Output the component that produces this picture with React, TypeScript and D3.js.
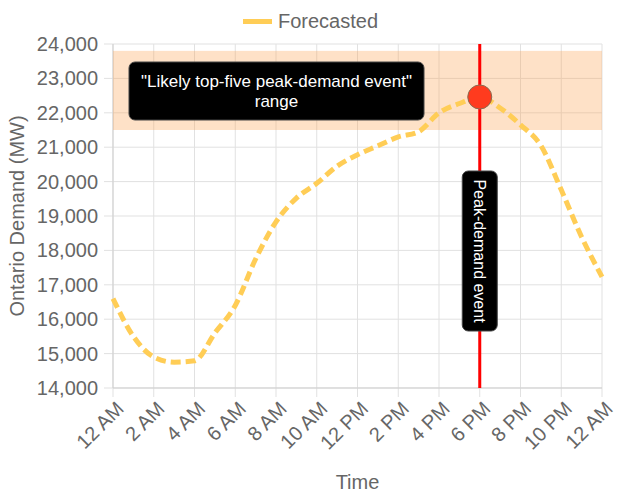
import React from "react";
import * as d3 from "d3";

const hours = d3.range(0, 25);
const forecast = [
  16600, 15500, 14900, 14750, 14790, 15600, 16400, 17750, 18830, 19520,
  19950, 20450, 20780, 21040, 21300, 21450, 22000, 22270, 22460, 22140,
  21650, 21050, 19760, 18390, 17230,
];
const xTickHours = [0, 2, 4, 6, 8, 10, 12, 14, 16, 18, 20, 22, 24];
const xTickLabels = ["12 AM", "2 AM", "4 AM", "6 AM", "8 AM", "10 AM", "12 PM", "2 PM", "4 PM", "6 PM", "8 PM", "10 PM", "12 AM"];
const yTicks = [14000, 15000, 16000, 17000, 18000, 19000, 20000, 21000, 22000, 23000, 24000];
const bandRange = [21500, 23800];
const peakHour = 18;
const peakValue = 22460;
const bandLabel = ['"Likely top-five peak-demand event"', "range"];
const peakLabel = "Peak-demand event";
const seriesName = "Forecasted";

const W = 625, H = 500;
const L = 113, R = 602, T = 44, B = 388;
const FONT = "Arial, 'Liberation Sans', Helvetica, sans-serif";

export default function App() {
  const x = d3.scaleLinear().domain([0, 24]).range([L, R]);
  const y = d3.scaleLinear().domain([14000, 24000]).range([B, T]);
  const line = d3
    .line<number>()
    .x((_, i) => x(hours[i]))
    .y((d) => y(d))
    .curve(d3.curveMonotoneX);
  const fmt = d3.format(",");
  const px = x(peakHour);

  return (
    <div style={{ position: "fixed", left: 0, top: 0 }}>
      <svg width={W} height={H} style={{ display: "block", fontFamily: FONT }}>
        <rect width={W} height={H} fill="#fff" />
        {/* grid */}
        {xTickHours.map((h) => (
          <line key={"gx" + h} x1={x(h)} x2={x(h)} y1={T} y2={B + 9} stroke="#e1e1e1" strokeWidth={1} />
        ))}
        {yTicks.map((v) => (
          <line key={"gy" + v} x1={L - 9} x2={R} y1={y(v)} y2={y(v)} stroke="#e1e1e1" strokeWidth={1} />
        ))}
        <line x1={L} x2={L} y1={T} y2={B} stroke="#cfcfcf" />
        <line x1={L} x2={R} y1={B} y2={B} stroke="#cfcfcf" />
        {/* band */}
        <rect x={L} width={R - L} y={y(bandRange[1])} height={y(bandRange[0]) - y(bandRange[1])} fill="rgba(253,161,80,0.32)" />
        {/* y tick labels */}
        {yTicks.map((v) => (
          <text key={"ty" + v} x={L - 15} y={y(v)} dy="0.35em" textAnchor="end" fontSize={20} fill="#666">
            {fmt(v)}
          </text>
        ))}
        {/* x tick labels */}
        {xTickHours.map((h, i) => (
          <text
            key={"tx" + h}
            transform={`translate(${x(h) + 7},${B + 17}) rotate(-45)`}
            textAnchor="end"
            dy="0.35em"
            fontSize={20}
            fill="#666"
          >
            {xTickLabels[i]}
          </text>
        ))}
        {/* axis titles */}
        <text transform={`translate(17,${(T + B) / 2}) rotate(-90)`} textAnchor="middle" dy="0.35em" fontSize={20} fill="#666">
          Ontario Demand (MW)
        </text>
        <text x={(L + R) / 2} y={489} textAnchor="middle" fontSize={20} fill="#666">
          Time
        </text>
        {/* series */}
        <path d={line(forecast) || ""} fill="none" stroke="#ffcd56" strokeWidth={5} strokeDasharray="10,5" />
        {/* peak line */}
        <line x1={px} x2={px} y1={T} y2={B} stroke="#ff0000" strokeWidth={3} />
        {/* band label */}
        <rect x={129} y={62} width={295} height={58} rx={6} fill="#000" stroke="#444" strokeWidth={1} />
        <text x={276.5} y={81} dy="0.35em" textAnchor="middle" fontSize={17} fill="#fff">
          {bandLabel[0]}
        </text>
        <text x={276.5} y={101} dy="0.35em" textAnchor="middle" fontSize={17} fill="#fff">
          {bandLabel[1]}
        </text>
        {/* peak label */}
        <rect x={px - 17.5} y={171} width={35} height={160} rx={6} fill="#000" stroke="#444" strokeWidth={1} />
        <text transform={`translate(${px},251) rotate(90)`} textAnchor="middle" dy="0.35em" fontSize={16} fill="#fff">
          {peakLabel}
        </text>
        {/* peak point */}
        <circle cx={px} cy={y(peakValue)} r={12} fill="#ff3b1e" stroke="#8a6a50" strokeWidth={1} />
        {/* legend */}
        <line x1={243} x2={272} y1={21.5} y2={21.5} stroke="#ffcd56" strokeWidth={5} />
        <text x={278} y={21} dy="0.35em" fontSize={20} fill="#666">
          {seriesName}
        </text>
      </svg>
    </div>
  );
}
